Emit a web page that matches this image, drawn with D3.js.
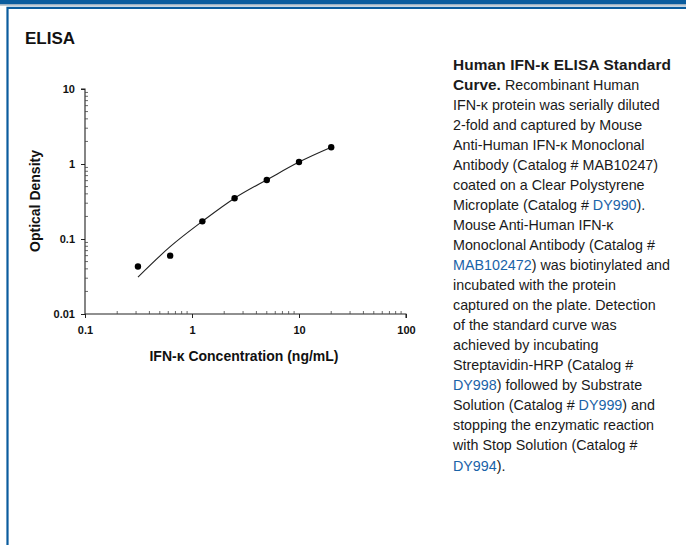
<!DOCTYPE html>
<html>
<head>
<meta charset="utf-8">
<script src="https://cdn.jsdelivr.net/npm/d3@7"></script>
<style>
  html, body { margin: 0; padding: 0; background: #fff; }
  svg { display: block; font-family: "Liberation Sans", Arial, Helvetica, sans-serif; }
</style>
</head>
<body>
<svg id="chart" width="686" height="545"></svg>
<script>
// ---- data ----
const concentrations = [0.3125, 0.625, 1.25, 2.5, 5, 10, 20];          // ng/mL
const opticalDensity = [0.043, 0.060, 0.172, 0.350, 0.612, 1.065, 1.67];
const fitCurveX = [0.3125, 0.625, 1.25, 2.5, 5, 10, 20];
const fitCurveY = [0.031, 0.079, 0.172, 0.350, 0.615, 1.06, 1.67];
const xTickValues = [0.1, 1, 10, 100];
const xTickLabels = ["0.1", "1", "10", "100"];
const yTickValues = [0.01, 0.1, 1, 10];
const yTickLabels = ["0.01", "0.1", "1", "10"];

const linkBlue = "#1a63a8";
const frameBlue = "#0a5c9e";

// caption lines: array of segments [text, style]  (b = bold, l = link)
const captionLines = [
  [["Human IFN-κ ELISA Standard", "b"]],
  [["Curve.", "b"], [" Recombinant Human", ""]],
  [["IFN-κ protein was serially diluted", ""]],
  [["2-fold and captured by Mouse", ""]],
  [["Anti-Human IFN-κ Monoclonal", ""]],
  [["Antibody (Catalog # MAB10247)", ""]],
  [["coated on a Clear Polystyrene", ""]],
  [["Microplate (Catalog # ", ""], ["DY990", "l"], [").", ""]],
  [["Mouse Anti-Human IFN-κ", ""]],
  [["Monoclonal Antibody (Catalog #", ""]],
  [["MAB102472", "l"], [") was biotinylated and", ""]],
  [["incubated with the protein", ""]],
  [["captured on the plate. Detection", ""]],
  [["of the standard curve was", ""]],
  [["achieved by incubating", ""]],
  [["Streptavidin-HRP (Catalog #", ""]],
  [["DY998", "l"], [") followed by Substrate", ""]],
  [["Solution (Catalog # ", ""], ["DY999", "l"], [") and", ""]],
  [["stopping the enzymatic reaction", ""]],
  [["with Stop Solution (Catalog #", ""]],
  [["DY994", "l"], [").", ""]]
];

const svg = d3.select("#chart");

// ---- frame ----
svg.append("rect").attr("x", 0).attr("y", 0).attr("width", 686).attr("height", 4.5).attr("fill", frameBlue);
svg.append("rect").attr("x", 0).attr("y", 4.5).attr("width", 686).attr("height", 1.2).attr("fill", "#a9b4be");
svg.append("path").attr("d", "M7.5,545 V7.8 H686")
  .attr("fill", "none").attr("stroke", frameBlue).attr("stroke-width", 2.2);

svg.append("text").attr("x", 25).attr("y", 43.5)
  .attr("font-size", 17).attr("font-weight", "bold").attr("fill", "#111")
  .text("ELISA");

// ---- scales ----
const x = d3.scaleLog().domain([0.1, 100]).range([85, 406]);
const y = d3.scaleLog().domain([0.01, 10]).range([314, 89]);

const g = svg.append("g");

// minor ticks
const xMinor = [];
const yMinor = [];
for (let d = 0.1; d < 100; d *= 10) for (let k = 2; k <= 9; k++) xMinor.push(d * k);
for (let d = 0.01; d < 10; d *= 10) for (let k = 2; k <= 9; k++) yMinor.push(d * k);

const xAxis = d3.axisBottom(x).tickValues(xTickValues).tickFormat((d, i) => xTickLabels[i]).tickSize(4).tickPadding(8);
const yAxis = d3.axisLeft(y).tickValues(yTickValues).tickFormat((d, i) => yTickLabels[i]).tickSize(4).tickPadding(6);

const gx = g.append("g").attr("transform", "translate(0,314)").call(xAxis);
const gy = g.append("g").attr("transform", "translate(85,0)").call(yAxis);
[gx, gy].forEach(a => {
  a.select(".domain").attr("stroke", "#222").attr("stroke-width", 1.1);
  a.selectAll(".tick line").attr("stroke", "#222").attr("stroke-width", 1);
  a.selectAll(".tick text").attr("font-family", "Liberation Sans, Arial, sans-serif")
    .attr("font-size", 11).attr("font-weight", "bold").attr("fill", "#111");
});
gx.select(".domain").attr("d", "M85,0H406V4");
gy.select(".domain").attr("d", "M-4,89H0V314");

g.append("g").selectAll("line").data(xMinor).join("line")
  .attr("x1", d => x(d)).attr("x2", d => x(d)).attr("y1", 314).attr("y2", 311)
  .attr("stroke", "#444").attr("stroke-width", 0.8);
g.append("g").selectAll("line").data(yMinor).join("line")
  .attr("x1", 85).attr("x2", 88).attr("y1", d => y(d)).attr("y2", d => y(d))
  .attr("stroke", "#444").attr("stroke-width", 0.8);

// axis titles
svg.append("text").attr("x", 244).attr("y", 361).attr("text-anchor", "middle")
  .attr("font-size", 14).attr("font-weight", "bold").attr("fill", "#111")
  .text("IFN-κ Concentration (ng/mL)");
svg.append("text").attr("transform", "translate(40,201) rotate(-90)").attr("text-anchor", "middle")
  .attr("font-size", 14).attr("font-weight", "bold").attr("fill", "#111")
  .text("Optical Density");

// fit curve
const curvePts = fitCurveX.map((v, i) => [v, fitCurveY[i]]);
g.append("path").datum(curvePts)
  .attr("d", d3.line().x(d => x(d[0])).y(d => y(d[1])).curve(d3.curveNatural))
  .attr("fill", "none").attr("stroke", "#222").attr("stroke-width", 1.1);

// data points
g.append("g").selectAll("circle").data(concentrations).join("circle")
  .attr("cx", d => x(d)).attr("cy", (d, i) => y(opticalDensity[i])).attr("r", 3.2)
  .attr("fill", "#000");

// caption
const cap = svg.append("g");
captionLines.forEach((segs, i) => {
  const t = cap.append("text").attr("x", 453).attr("y", 69.5 + i * 20.05)
    .attr("font-size", 14.3).attr("fill", "#1a1a1a");
  segs.forEach(([txt, st]) => {
    const ts = t.append("tspan").text(txt);
    if (st === "b") ts.attr("font-weight", "bold").attr("font-size", 15.4);
    if (st === "l") ts.attr("fill", linkBlue);
  });
  if (i === 0) t.attr("textLength", 218).attr("lengthAdjust", "spacing");
});
</script>
</body>
</html>
